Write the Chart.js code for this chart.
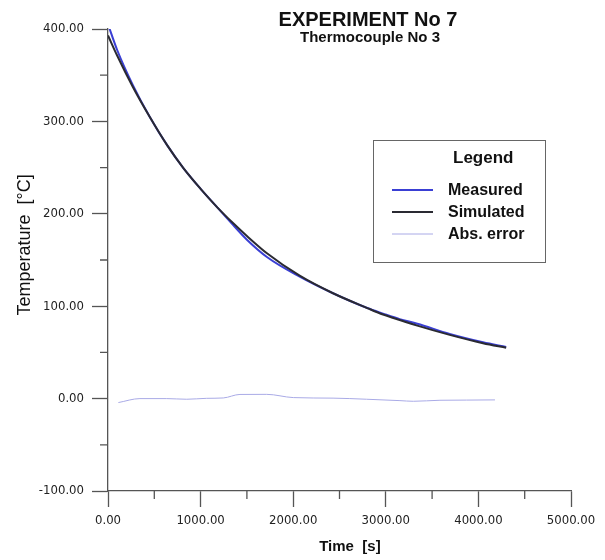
<!DOCTYPE html>
<html>
<head>
<meta charset="utf-8">
<script src="https://cdn.jsdelivr.net/npm/chart.js@4/dist/chart.umd.min.js"></script>
<style>
  body { margin: 0; background: #fff; }
  canvas { display: block; }
</style>
</head>
<body>
<canvas id="chart" width="605" height="560"></canvas>
<script>
// values
const timeS = [0, 100, 270, 450, 640, 810, 1000, 1180, 1350, 1500, 1720, 2070, 2430, 2800, 2970, 3150, 3340, 3690, 4050, 4300];
const measured = [405, 377, 339, 305, 274, 250, 227, 207, 188, 172, 153, 132, 114, 98, 92, 86, 81, 70, 61, 56];
const simulated = [393, 371, 337, 305, 274, 250, 227, 207, 190, 176, 157, 133, 114, 98, 91, 85, 79, 69, 60, 55];

const errTime = [112, 345, 634, 850, 1066, 1245, 1425, 1714, 2001, 2430, 2793, 3153, 3297, 3585, 3873, 4179];
const absError = [-4.3, 0, 0, -0.7, 0.3, 0.7, 4.5, 4.6, 1.1, 0.5, -0.7, -2.2, -2.9, -1.8, -1.6, -1.4];

const xTicks = [0, 1000, 2000, 3000, 4000, 5000];
const yTicks = [-100, 0, 100, 200, 300, 400];
const xMinor = [500, 1500, 2500, 3500, 4500];
const yMinor = [-50, 50, 150, 250, 350];

const toPoints = (xs, ys) => xs.map((x, i) => ({ x, y: ys[i] }));

const AXIS_COLOR = '#555';
const TICK_FONT = { family: "'DejaVu Sans Condensed', 'DejaVu Sans', sans-serif", size: 13 };

const minorTicks = {
    id: 'minorTicks',
    afterDraw(chart) {
        const { ctx, scales: { x, y } } = chart;
        ctx.save();
        ctx.strokeStyle = AXIS_COLOR;
        ctx.lineWidth = 1.3;
        ctx.beginPath();
        xMinor.forEach(v => {
            const px = x.getPixelForValue(v);
            ctx.moveTo(px, y.bottom);
            ctx.lineTo(px, y.bottom + 8);
        });
        yMinor.forEach(v => {
            const py = y.getPixelForValue(v);
            ctx.moveTo(x.left - 8, py);
            ctx.lineTo(x.left, py);
        });
        ctx.stroke();
        ctx.restore();
    }
};

const titleAndLegend = {
    id: 'titleAndLegend',
    afterDraw(chart) {
        const ctx = chart.ctx;
        ctx.save();
        ctx.fillStyle = '#111';
        ctx.textAlign = 'center';
        ctx.textBaseline = 'alphabetic';
        ctx.font = "bold 20px 'Liberation Sans', Arial, sans-serif";
        ctx.fillText('EXPERIMENT No 7', 368, 26);
        ctx.font = "bold 15px 'Liberation Sans', Arial, sans-serif";
        ctx.fillText('Thermocouple No 3', 370, 42);

        // legend box
        ctx.strokeStyle = '#666';
        ctx.lineWidth = 1;
        ctx.strokeRect(373.5, 140.5, 172, 122);
        ctx.textAlign = 'left';
        ctx.font = "bold 17px 'Liberation Sans', Arial, sans-serif";
        ctx.fillText('Legend', 453, 163);
        ctx.font = "bold 16px 'Liberation Sans', Arial, sans-serif";
        chart.data.datasets.forEach((ds, i) => {
            const base = 195 + i * 22;
            ctx.strokeStyle = ds.borderColor;
            ctx.lineWidth = ds.borderWidth;
            ctx.beginPath();
            ctx.moveTo(392, base - 5);
            ctx.lineTo(433, base - 5);
            ctx.stroke();
            ctx.fillText(ds.label, 448, base);
        });
        ctx.restore();
    }
};

new Chart(document.getElementById('chart'), {
    type: 'line',
    data: {
        datasets: [
            { label: 'Measured', data: toPoints(timeS, measured), borderColor: '#3a3fd4', borderWidth: 2, order: 1 },
            { label: 'Simulated', data: toPoints(timeS, simulated), borderColor: '#2a2a32', borderWidth: 2, order: 0 },
            { label: 'Abs. error', data: toPoints(errTime, absError), borderColor: '#a9aae6', borderWidth: 1, order: 2 }
        ]
    },
    options: {
        responsive: false,
        animation: false,
        events: [],
        elements: { point: { radius: 0 }, line: { cubicInterpolationMode: 'monotone' } },
        layout: { padding: { top: 29, right: 34, left: 0, bottom: 0 } },
        plugins: { legend: { display: false }, title: { display: false }, tooltip: { enabled: false } },
        scales: {
            x: {
                type: 'linear', min: 0, max: 5000,
                afterFit: s => { s.height = 69; },
                afterBuildTicks: s => { s.ticks = xTicks.map(v => ({ value: v })); },
                ticks: { callback: v => v.toFixed(2), color: '#222', font: TICK_FONT, padding: 6, maxRotation: 0 },
                grid: { drawOnChartArea: false, tickLength: 16, tickColor: AXIS_COLOR, tickWidth: 1.3 },
                border: { color: AXIS_COLOR, width: 1.3 },
                // leading spaces nudge the title right, as in the reference
                title: { display: true, text: '     Time  [s]', color: '#111', padding: 4,
                         font: { family: "'Liberation Sans', Arial, sans-serif", size: 15, weight: 'bold' } }
            },
            y: {
                type: 'linear', min: -100, max: 400,
                afterFit: s => { s.width = 108; },
                afterBuildTicks: s => { s.ticks = yTicks.map(v => ({ value: v })); },
                ticks: { callback: v => v.toFixed(2), color: '#222', font: TICK_FONT, padding: 8 },
                grid: { drawOnChartArea: false, tickLength: 16, tickColor: AXIS_COLOR, tickWidth: 1.3 },
                border: { color: AXIS_COLOR, width: 1.3 },
                title: { display: true, text: '      Temperature  [°C]', color: '#111', padding: 14,
                         font: { family: "'Liberation Sans', Arial, sans-serif", size: 18 } }
            }
        }
    },
    plugins: [minorTicks, titleAndLegend]
});
</script>
</body>
</html>
